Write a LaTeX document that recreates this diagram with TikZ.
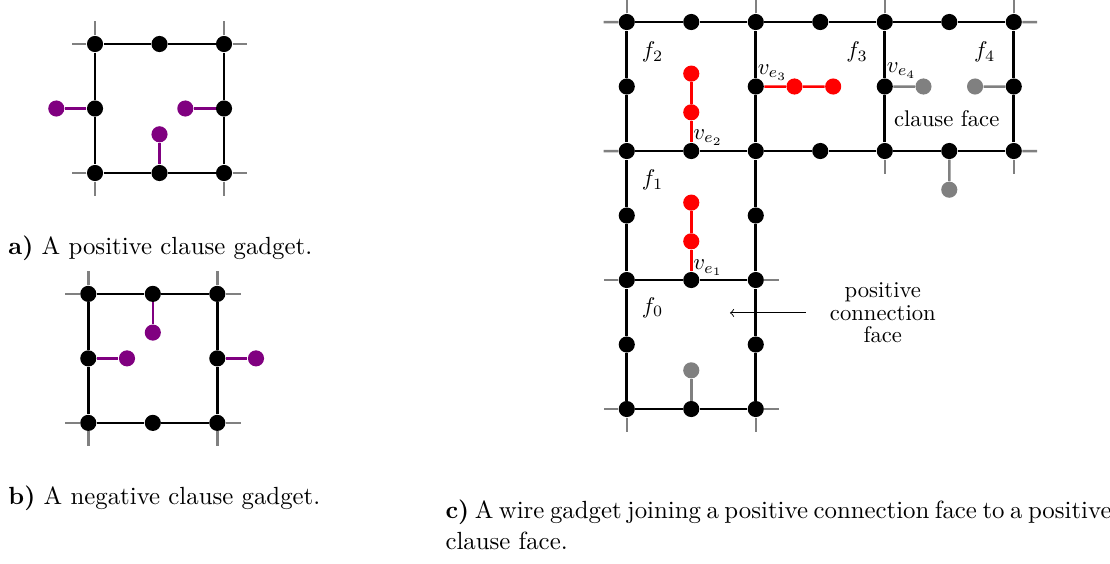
\documentclass[tikz,border=0pt]{standalone}
\definecolor{stub}{HTML}{808080}
\definecolor{clause}{HTML}{800080}
\definecolor{wire}{HTML}{FF0000}
\tikzstyle{grid_vertex}=[circle, fill=black, inner sep=0pt, minimum size=0.25cm]
\tikzstyle{clause_vertex}=[grid_vertex, fill=clause]
\tikzstyle{wire_vertex}=[grid_vertex, fill=wire]
\tikzstyle{stub_vertex}=[grid_vertex, fill=stub]
\tikzstyle{grid_edge}=[draw=black, line width=1.2pt]
\tikzstyle{stub_edge}=[draw=stub, line width=1.1pt]
\tikzstyle{clause_edge}=[draw=clause, line width=1.0pt]
\tikzstyle{wire_edge}=[draw=wire, line width=1.1pt]
\tikzstyle{face_label}=[inner sep=0pt, font=\fontsize{10}{10}\selectfont]
\tikzstyle{sub_caption}=[inner sep=0pt, anchor=base west,
                         font=\fontsize{10.95}{13.6}\selectfont]

\begin{document}
\begin{tikzpicture}
  \useasboundingbox (0cm, 0cm) rectangle (17.209cm, -8.729cm);

  \begin{scope}[shift={(1.473cm, -2.682cm)}]
    \foreach \i/\j in {0/0,1/0,2/0,0/1,2/1,0/2,1/2,2/2} {
      \node at (1.0cm * \i, 1.0cm * \j) (a\i\j) [grid_vertex] {};
    }
    \draw[grid_edge] (a00) -- (a10) -- (a20) -- (a21) -- (a22) -- (a12) -- (a02) -- (a01) -- (a00);
    \foreach \i/\j/\dx/\dy in {0/0/-1/0,0/0/0/-1,2/0/1/0,2/0/0/-1,0/2/-1/0,0/2/0/1,2/2/1/0,2/2/0/1} {
      \coordinate (aend) at (\i + 0.36 * \dx, \j + 0.36 * \dy);
      \draw[stub_edge] (a\i\j) -- (aend);
    }
    \node at (-0.6cm, 1.0cm) (ap1) [clause_vertex] {};
    \node at (1.4cm, 1.0cm) (ap2) [clause_vertex] {};
    \node at (1.0cm, 0.6cm) (ap3) [clause_vertex] {};
    \draw[clause_edge] (a01) -- (ap1);
    \draw[clause_edge] (a21) -- (ap2);
    \draw[clause_edge] (a10) -- (ap3);
  \end{scope}

  \begin{scope}[shift={(1.369cm, -6.556cm)}]
    \foreach \i/\j in {0/0,1/0,2/0,0/1,2/1,0/2,1/2,2/2} {
      \node at (1.0cm * \i, 1.0cm * \j) (b\i\j) [grid_vertex] {};
    }
    \draw[grid_edge] (b00) -- (b10) -- (b20) -- (b21) -- (b22) -- (b12) -- (b02) -- (b01) -- (b00);
    \foreach \i/\j/\dx/\dy in {0/0/-1/0,0/0/0/-1,2/0/1/0,2/0/0/-1,0/2/-1/0,0/2/0/1,2/2/1/0,2/2/0/1} {
      \coordinate (bend) at (\i + 0.36 * \dx, \j + 0.36 * \dy);
      \draw[stub_edge] (b\i\j) -- (bend);
    }
    \node at (1.0cm, 1.4cm) (bn1) [clause_vertex] {};
    \node at (0.6cm, 1.0cm) (bn2) [clause_vertex] {};
    \node at (2.6cm, 1.0cm) (bn3) [clause_vertex] {};
    \draw[clause_edge] (b12) -- (bn1);
    \draw[clause_edge] (b01) -- (bn2);
    \draw[clause_edge] (b21) -- (bn3);
  \end{scope}

  \begin{scope}[shift={(9.717cm, -6.341cm)}]
    \foreach \i/\j in {0/0,1/0,2/0,0/1,2/1,0/2,1/2,2/2,0/3,2/3,0/5,2/5,4/5,6/5} {
      \node at (1.0cm * \i, 1.0cm * \j) (c\i\j) [grid_vertex] {};
    }
    \foreach \i in {0,...,6} {
      \node at (1.0cm * \i, 4.0cm) (c\i4) [grid_vertex] {};
      \node at (1.0cm * \i, 6.0cm) (c\i6) [grid_vertex] {};
    }
    \foreach \j in {4,6} {
      \foreach \i [count=\k] in {0,...,5} {
        \draw[grid_edge] (c\i\j) -- (c\k\j);
      }
    }
    \foreach \j in {0,2} {
      \draw[grid_edge] (c0\j) -- (c1\j) -- (c2\j);
    }
    \foreach \i in {0,2} {
      \foreach \j [count=\k] in {0,...,5} {
        \draw[grid_edge] (c\i\j) -- (c\i\k);
      }
    }
    \foreach \i in {4,6} {
      \draw[grid_edge] (c\i4) -- (c\i5) -- (c\i6);
    }
    \foreach \i/\j/\dx/\dy in {0/6/-1/0,0/6/0/1,2/6/0/1,4/6/0/1,6/6/0/1,6/6/1/0,
                               0/4/-1/0,4/4/0/-1,6/4/1/0,6/4/0/-1,0/2/-1/0,2/2/1/0,
                               0/0/-1/0,0/0/0/-1,2/0/1/0,2/0/0/-1} {
      \coordinate (cend) at (\i + 0.36 * \dx, \j + 0.36 * \dy);
      \draw[stub_edge] (c\i\j) -- (cend);
    }

    \node at (1.0cm, 2.6cm) (w1) [wire_vertex] {};
    \node at (1.0cm, 3.2cm) (w2) [wire_vertex] {};
    \node at (1.0cm, 4.6cm) (w3) [wire_vertex] {};
    \node at (1.0cm, 5.2cm) (w4) [wire_vertex] {};
    \node at (2.6cm, 5.0cm) (w5) [wire_vertex] {};
    \node at (3.2cm, 5.0cm) (w6) [wire_vertex] {};
    \draw[wire_edge] (c12) -- (w1) -- (w2);
    \draw[wire_edge] (c14) -- (w3) -- (w4);
    \draw[wire_edge] (c25) -- (w5) -- (w6);

    \node at (4.6cm, 5.0cm) (g1) [stub_vertex] {};
    \node at (5.4cm, 5.0cm) (g2) [stub_vertex] {};
    \node at (5.0cm, 3.4cm) (g3) [stub_vertex] {};
    \node at (1.0cm, 0.6cm) (g4) [stub_vertex] {};
    \draw[stub_edge] (c45) -- (g1);
    \draw[stub_edge] (c65) -- (g2);
    \draw[stub_edge] (c54) -- (g3);
    \draw[stub_edge] (c10) -- (g4);

    \node at (0.40cm, 1.57cm) (f0) [face_label] {$f_0$};
    \node at (0.40cm, 3.55cm) (f1) [face_label] {$f_1$};
    \node at (0.40cm, 5.53cm) (f2) [face_label] {$f_2$};
    \node at (3.57cm, 5.53cm) (f3) [face_label] {$f_3$};
    \node at (5.55cm, 5.53cm) (f4) [face_label] {$f_4$};
    \node at (1.26cm, 2.19cm) (ve1) [face_label] {$v_{e_1}$};
    \node at (1.26cm, 4.21cm) (ve2) [face_label] {$v_{e_2}$};
    \node at (2.26cm, 5.22cm) (ve3) [face_label] {$v_{e_3}$};
    \node at (4.26cm, 5.25cm) (ve4) [face_label] {$v_{e_4}$};
    \node at (4.96cm, 4.50cm) (cf) [face_label] {clause face};
    \node at (3.97cm, 1.49cm) (pcf) [face_label, align=center] {positive\\connection\\face};
    \coordinate (pcftip) at (1.6cm, 1.49cm);
    \draw[->, shorten <=0.37cm] (pcf) -- (pcftip);
  \end{scope}

  \node at (0.124cm, -3.953cm) (capa) [sub_caption] {\textbf{a)} A positive clause gadget.};
  \node at (0.124cm, -7.829cm) (capb) [sub_caption] {\textbf{b)} A negative clause gadget.};
  \node at (6.9cm, -8.031cm) (capc) [sub_caption]
    {\hbox to 10.28cm{\textbf{c)} A wire gadget joining a positive connection face to a positive}};
  \node at (6.9cm, -8.512cm) (capc2) [sub_caption] {clause face.};
\end{tikzpicture}
\end{document}
